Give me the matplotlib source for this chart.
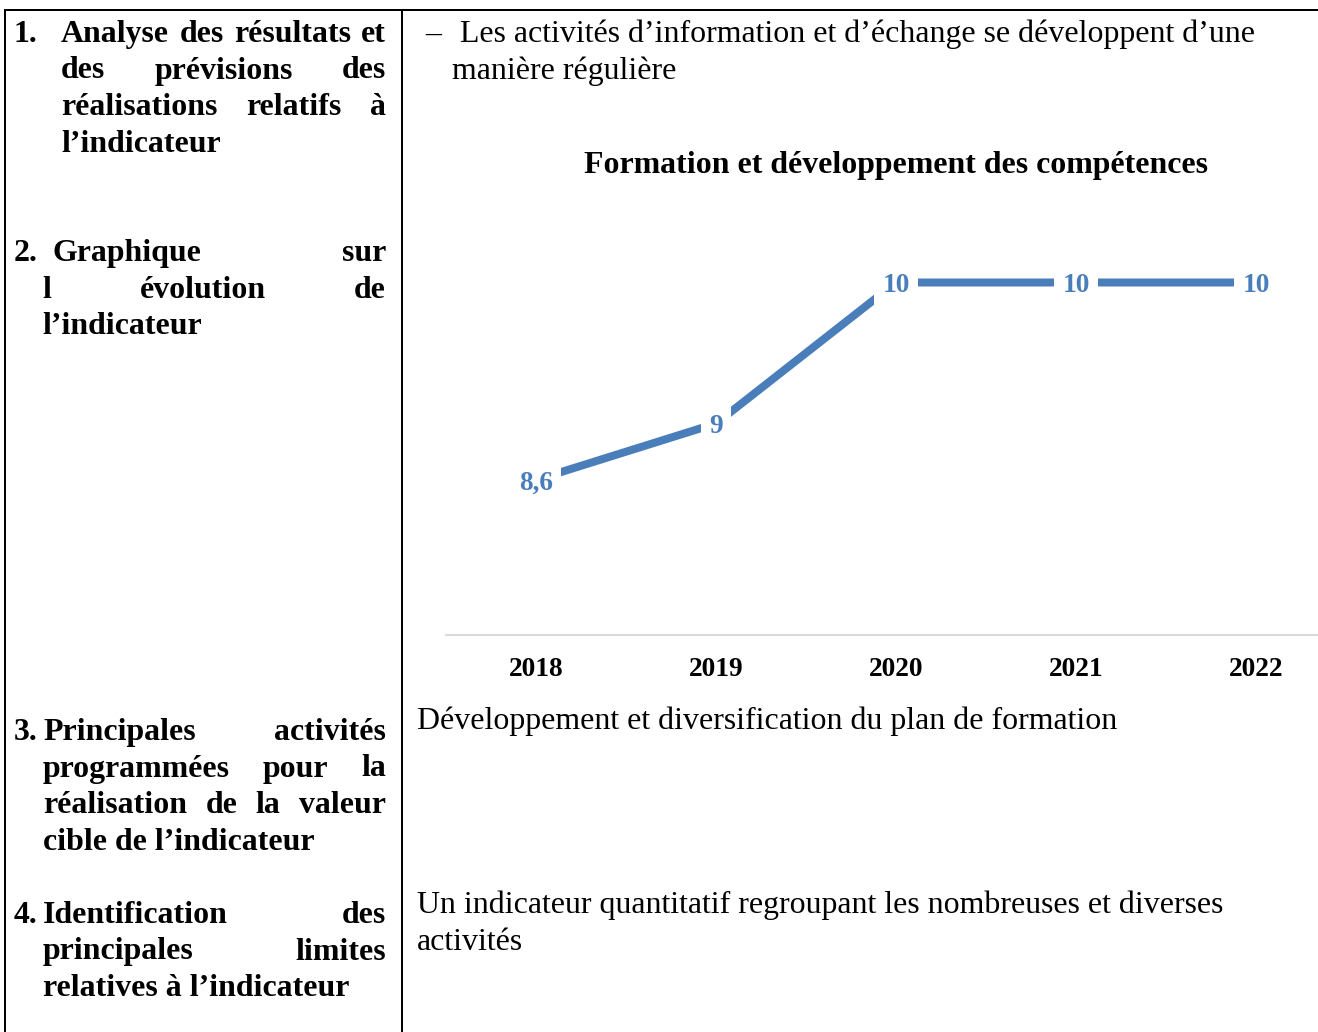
import matplotlib
matplotlib.use("Agg")
import matplotlib.pyplot as plt
from matplotlib.transforms import IdentityTransform

# ---------------- data ----------------
years = ["2018", "2019", "2020", "2021", "2022"]
values = [8.6, 9, 10, 10, 10]
value_labels = ["8,6", "9", "10", "10", "10"]
chart_title = "Formation et développement des compétences"

left_items = [
    ("1.", [("Analyse des résultats et", True), ("des prévisions des", True),
            ("réalisations relatifs à", True), ("l’indicateur", False)]),
    ("2.", [("Graphique sur", True), ("l évolution de", True), ("l’indicateur", False)]),
    ("3.", [("Principales activités", True), ("programmées pour la", True),
            ("réalisation de la valeur", True), ("cible de l’indicateur", False)]),
    ("4.", [("Identification des", True), ("principales limites", True),
            ("relatives à l’indicateur", False)]),
]
right_intro = ["Les activités d’information et d’échange se développent d’une",
               "manière régulière"]
right_activities = "Développement et diversification du plan de formation"
right_limits = ["Un indicateur quantitatif regroupant les nombreuses et diverses",
                "activités"]

# ---------------- layout ----------------
W, H = 1318, 1032
DPI = 100
fig = plt.figure(figsize=(W / DPI, H / DPI), dpi=DPI)
fig.patch.set_facecolor("white")
renderer = fig.canvas.get_renderer()
SERIF = "Liberation Serif"
T = IdentityTransform()

# calibrate font size so the reference line has its measured width (700 px)
probe = fig.text(0, 0, right_activities, fontsize=10, family=SERIF, transform=T)
w10 = probe.get_window_extent(renderer).width
probe.remove()
FS = 10 * 700.0 / w10


def px(x, y_top):
    return x, H - y_top


def word_width(word, weight):
    t = fig.text(0, 0, word, fontsize=FS, family=SERIF, weight=weight, transform=T)
    w = t.get_window_extent(renderer).width
    t.remove()
    return w


def draw_line(text, x0, x1, baseline, weight="normal", justify=False):
    if not justify:
        fig.text(*px(x0, baseline), text, fontsize=FS, family=SERIF, weight=weight,
                 ha="left", va="baseline", transform=T)
        return
    words = text.split(" ")
    widths = [word_width(w, weight) for w in words]
    gap = (x1 - x0 - sum(widths)) / max(len(words) - 1, 1)
    x = x0
    for w, ww in zip(words, widths):
        fig.text(*px(x, baseline), w, fontsize=FS, family=SERIF, weight=weight,
                 ha="left", va="baseline", transform=T)
        x += ww + gap


# left column
item_starts = [42, 261, 740, 923]
first_x = [61, 52, 43, 43]
cont_x = [61, 42, 43, 43]
LINE = 36.5
for (num, lines), b0, fx, cx in zip(left_items, item_starts, first_x, cont_x):
    fig.text(*px(14, b0), num, fontsize=FS, family=SERIF, weight="bold",
             ha="left", va="baseline", transform=T)
    for i, (ln, just) in enumerate(lines):
        draw_line(ln, fx if i == 0 else cx, 386, b0 + i * LINE, weight="bold", justify=just)

# right column text
fig.text(*px(425, 42), "–", fontsize=FS, family=SERIF, ha="left", va="baseline", transform=T)
draw_line(right_intro[0], 460, 1256, 42)
draw_line(right_intro[1], 452, 1256, 79)
draw_line(right_activities, 417, 1300, 729)
draw_line(right_limits[0], 417, 1300, 913)
draw_line(right_limits[1], 417, 1300, 950)

# table borders
lw = 2.0 * 72 / DPI
fig.add_artist(plt.Line2D([5, W], [H - 10, H - 10], transform=T, color="black", lw=lw))
fig.add_artist(plt.Line2D([5, 5], [H - 10, 0], transform=T, color="black", lw=lw))
fig.add_artist(plt.Line2D([402, 402], [H - 10, 0], transform=T, color="black", lw=lw))

# ---------------- chart ----------------
ymin, ymax = 7.5, 10.5
unit = 141.0
ax_left, ax_right = 446, 1346
ax_bottom = H - 635
ax_h = (ymax - ymin) * unit
ax = fig.add_axes([ax_left / W, ax_bottom / H, (ax_right - ax_left) / W, ax_h / H])
ax.set_facecolor("none")
xs = list(range(len(years)))
ax.plot(xs, values, color="#4A7EBB", lw=8 * 72 / DPI, solid_capstyle="butt", zorder=2)
for x, v, lab in zip(xs, values, value_labels):
    ax.text(x, v, lab, color="#4A7EBB", fontsize=FS * 0.86, family=SERIF, weight="bold",
            ha="center", va="center_baseline", zorder=3,
            bbox=dict(boxstyle="square,pad=0.3", fc="white", ec="none"))
ax.set_xlim(-0.5, len(years) - 0.5)
ax.set_ylim(ymin, ymax)
ax.set_xticks(xs)
ax.set_xticklabels(years, fontsize=FS * 0.86, family=SERIF, weight="bold")
ax.tick_params(axis="x", length=0, pad=16)
ax.set_yticks([])
for s in ["top", "left", "right"]:
    ax.spines[s].set_visible(False)
ax.spines["bottom"].set_color("#D9D9D9")
ax.spines["bottom"].set_linewidth(2 * 72 / DPI)

fig.text(*px(896, 173), chart_title, fontsize=FS, family=SERIF, weight="bold",
         ha="center", va="baseline", transform=T)

fig.savefig("out.png", dpi=DPI, facecolor="white")
